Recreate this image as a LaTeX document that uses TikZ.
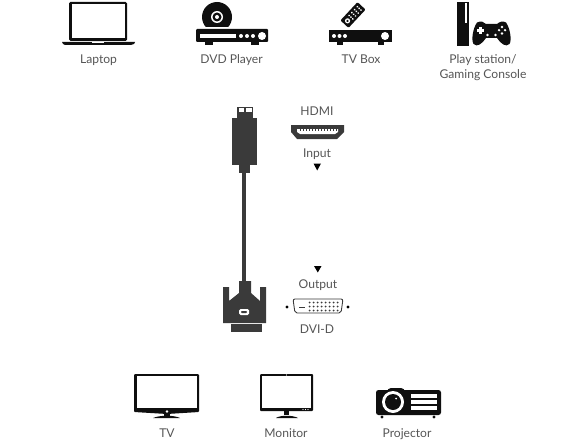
\documentclass[tikz,border=0pt]{standalone}
\usepackage{fontspec}
\setmainfont{Lato}
\definecolor{icondark}{HTML}{0F0F0F}
\definecolor{plugdark}{HTML}{3A3A3A}
\definecolor{lbltext}{HTML}{555555}
\tikzset{
  icon/.style={fill=icondark, draw=none},
  hole/.style={fill=white, draw=none},
  plug/.style={fill=plugdark, draw=none},
  lbl/.style={text=lbltext, font=\fontsize{12.1}{15}\selectfont, inner sep=0pt, align=center, anchor=base},
  marker/.style={fill=black, draw=none}
}
\begin{document}
\begin{tikzpicture}[x=1pt, y=-1pt]
    \useasboundingbox (0,0) rectangle (588,441);
    % laptop
    \fill[icon, rounded corners=1.5pt] (69,2) rectangle (127,41);
    \fill[hole] (72,4.5) rectangle (124.5,38);
    \fill[icon] (62,42) -- (135,42) -- (134,44) -- (131,45) -- (65,45) -- (63,44) -- cycle;
    \fill[hole] (92,42) rectangle (104,43);
    \node[lbl] (laptop) at (98.5,64) {Laptop};
    % dvd player
    \fill[icon] (217,17) circle (15);
    \fill[hole] (200,27) rectangle (234,29);
    \fill[hole] (217,17) circle (6);
    \fill[icon] (217,17) circle (4.5);
    \fill[hole] (217,17) circle (2);
    \fill[icon, rounded corners=1pt] (196,29) rectangle (268,42);
    \foreach \x in {205,251} {
      \fill[icon] (\x,42) rectangle (\x+8,45);
    }
    \fill[hole] (199.5,34) rectangle (236,38);
    \foreach \x in {241,247,253} {
      \fill[hole] (\x,36) circle (2);
    }
    \fill[hole] (262,36) circle (4);
    \node[lbl] (dvdplayer) at (231.5,64) {DVD Player};
    % tv box
    \fill[icon] (329,30) rectangle (392,42);
    \foreach \x in {337,378} {
      \fill[icon] (\x,42) rectangle (\x+6,45);
    }
    \foreach \x in {334,339.5,345} {
      \fill[hole] (\x,36) circle (2);
    }
    \fill[hole] (385,36) circle (4);
    \begin{scope}[shift={(353,15)}, rotate=47]
      \fill[icon, rounded corners=1pt] (-12.5,-5.5) rectangle (12.5,5.5);
      \fill[hole] (-8,0) circle (2.6);
      \fill[icon] (-8,0) circle (1.3);
      \foreach \x in {-3,1,5,9} {
        \foreach \y in {-2.5,0,2.5} {
          \fill[hole] (\x,\y) circle (1);
        }
      }
    \end{scope}
    \node[lbl] (tvbox) at (361,64) {TV Box};
    % console
    \fill[icon] (457,2) rectangle (469,46);
    \fill[hole] (465,3) rectangle (467,23);
    \fill[icon] (477,22.5) .. controls (481,20.5) and (484,22) .. (486,24)
      -- (497,24) .. controls (499,22) and (503,20.5) .. (506,22.5)
      .. controls (510,28) and (512,40) .. (509.5,44)
      .. controls (506,47.5) and (501,44) .. (497,38)
      -- (486,38) .. controls (482,44) and (477,47.5) .. (473.5,44)
      .. controls (471,40) and (473,28) .. (477,22.5) -- cycle;
    \fill[hole] (479,27) rectangle (481.5,34);
    \fill[hole] (476.7,29.2) rectangle (483.8,31.8);
    \foreach \x/\y in {502/27,502/33.5,499/30.2,505/30.2,487.5/35,495.5/35} {
      \fill[hole] (\x,\y) circle (1.3);
    }
    \node[lbl] (console) at (483,79) {Play station/\\Gaming Console};
    % hdmi plug
    \fill[plug] (237,107) rectangle (253,118);
    \fill[hole] (238.5,108) rectangle (251.5,112);
    \fill[plug] (244,108) rectangle (246,112);
    \fill[plug] (232,118) rectangle (257,165);
    \fill[plug] (239,165) rectangle (250,173);
    \fill[plug] (242,173) rectangle (246,282);
    % hdmi port
    \fill[plug] (291,125) -- (344,125) -- (344,132) -- (337,139) -- (297,139) -- (291,132) -- cycle;
    \fill[hole] (297,129) -- (338,129) -- (338,132) -- (335,134) -- (300,134) -- (297,132) -- cycle;
    \foreach \x in {300,303,...,336} {
      \fill[plug] (\x,129) rectangle (\x+1.2,130.5);
    }
    \node[lbl] (hdmi) at (317,115) {HDMI};
    \node[lbl] (input) at (317,157) {Input};
    \fill[marker] (313.5,163.5) -- (321,163.5) -- (317.2,170.5) -- cycle;
    % dvi plug
    \fill[plug] (223,287) -- (229,287) -- (229,301) -- (239,293) -- (239,281) -- (251,281)
      -- (251,293) -- (260,301) -- (260,287) -- (266,287) -- (266,323) -- (223,323) -- cycle;
    \fill[plug] (231,324) rectangle (262,332);
    \fill[hole, rounded corners=1.5pt] (239,309) rectangle (249,315);
    \fill[plug, rounded corners=0.8pt] (241,311) rectangle (247,313);
    % dvi port
    \fill[marker] (314,266) -- (321.5,266) -- (317.8,272.5) -- cycle;
    \node[lbl] (output) at (318,288) {Output};
    \draw[plugdark, line width=0.9pt, rounded corners=2pt] (293,299) -- (343,299) -- (341,313) -- (295,313) -- cycle;
    \foreach \x in {287,348} {
      \fill[marker] (\x,307) circle (1.6);
    }
    \fill[plug] (299,306.5) rectangle (305,307.7);
    \foreach \x in {309.5,313.5,...,337.5} {
      \foreach \y in {302.5,306.5,310.5} {
        \fill[plug] (\x,\y) circle (1);
      }
    }
    \node[lbl] (dvid) at (317,333) {DVI-D};
    % tv
    \fill[icon, rounded corners=1pt] (134,374) -- (199,374) -- (199,412) -- (167,414) -- (134,412) -- cycle;
    \fill[hole] (136.5,376) rectangle (197,408);
    \fill[hole] (167,411.5) circle (1.4);
    \fill[icon] (164,414) rectangle (170,416);
    \fill[icon] (153,418) .. controls (160,415) and (174,415) .. (180,418) -- cycle;
    \node[lbl] (tv) at (167,437) {TV};
    % monitor
    \fill[icon, rounded corners=1pt] (260,374) rectangle (313,411);
    \fill[hole] (262,376) rectangle (311,408);
    \fill[hole] (286.5,375) circle (0.7);
    \foreach \x in {303,305.5,308} {
      \fill[hole] (\x,409.5) circle (0.6);
    }
    \fill[icon] (284,411) rectangle (289,415);
    \fill[icon] (276,418) .. controls (280,415) and (293,415) .. (298,418) -- cycle;
    \node[lbl] (monitor) at (286,437) {Monitor};
    % projector
    \fill[icon, rounded corners=2.5pt] (376,390) rectangle (441,415);
    \fill[icon, rounded corners=4pt] (387,388) rectangle (405,395);
    \fill[hole] (393,402) circle (11);
    \fill[icon] (393,402) circle (8);
    \fill[hole] (396,398.5) circle (1);
    \foreach \y in {394,400,406} {
      \fill[hole] (411,\y) rectangle (437,\y+4.3);
    }
    \foreach \x in {382,434} {
      \fill[icon] (\x,417) circle (1.6);
    }
    \node[lbl] (projector) at (407,437) {Projector};
\end{tikzpicture}
\end{document}
